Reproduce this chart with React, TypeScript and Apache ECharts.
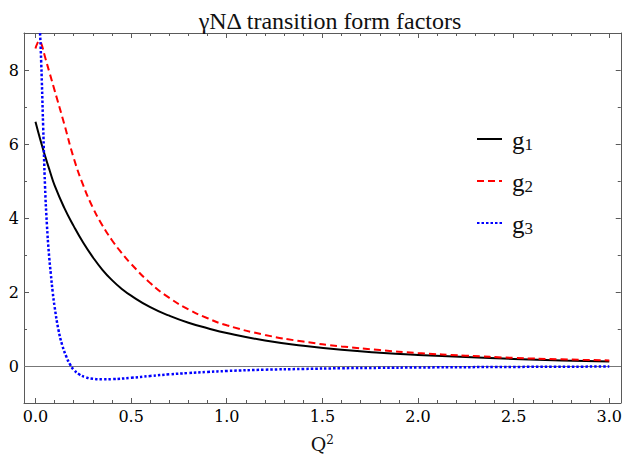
import React, { useEffect, useRef } from "react";
import * as echarts from "echarts";

// ---- data ----
const titleText = "γNΔ transition form factors";
const seriesNames = ["g1", "g2", "g3"];

const xMajorTicks = [0, 0.5, 1.0, 1.5, 2.0, 2.5, 3.0];
const xMinorTicks = [
  0.1, 0.2, 0.3, 0.4, 0.6, 0.7, 0.8, 0.9, 1.1, 1.2, 1.3, 1.4, 1.6, 1.7, 1.8, 1.9,
  2.1, 2.2, 2.3, 2.4, 2.6, 2.7, 2.8, 2.9,
];
const yMajorTicks = [0, 2, 4, 6, 8];
const yMinorTicks = [-1, 1, 3, 5, 7];

const g1Q2 = [0, 0.025, 0.05, 0.075, 0.1, 0.15, 0.2, 0.25, 0.3, 0.35, 0.4, 0.45, 0.5, 0.6, 0.7, 0.8, 0.9, 1.0, 1.2, 1.4, 1.6, 1.8, 2.0, 2.25, 2.5, 2.75, 3.0];
const g1Vals = [6.6, 6.12, 5.68, 5.27, 4.88, 4.28, 3.78, 3.33, 2.94, 2.6, 2.32, 2.09, 1.9, 1.59, 1.36, 1.17, 1.02, 0.89, 0.69, 0.55, 0.44, 0.36, 0.3, 0.24, 0.19, 0.15, 0.12];

const g2Q2 = [0, 0.01, 0.02, 0.03, 0.05, 0.075, 0.1, 0.15, 0.2, 0.25, 0.3, 0.35, 0.4, 0.45, 0.5, 0.6, 0.7, 0.8, 0.9, 1.0, 1.2, 1.4, 1.6, 1.8, 2.0, 2.25, 2.5, 2.75, 3.0];
const g2Vals = [8.58, 8.72, 8.78, 8.72, 8.35, 7.9, 7.45, 6.55, 5.62, 4.88, 4.28, 3.8, 3.4, 3.06, 2.76, 2.24, 1.84, 1.53, 1.29, 1.1, 0.84, 0.66, 0.53, 0.43, 0.35, 0.28, 0.22, 0.18, 0.15];

const g3Q2 = [0, 0.01, 0.02, 0.03, 0.04, 0.05, 0.06, 0.07, 0.08, 0.09, 0.1, 0.12, 0.14, 0.16, 0.18, 0.2, 0.23, 0.26, 0.3, 0.35, 0.4, 0.5, 0.6, 0.7, 0.8, 0.9, 1.0, 1.2, 1.4, 1.6, 1.8, 2.0, 2.5, 3.0];
const g3Vals = [12.4, 10.8, 9.5, 8.2, 6.5, 4.85, 3.8, 3.05, 2.5, 2.0, 1.6, 0.98, 0.56, 0.27, 0.05, -0.1, -0.23, -0.3, -0.345, -0.36, -0.355, -0.32, -0.27, -0.225, -0.19, -0.16, -0.135, -0.1, -0.08, -0.06, -0.05, -0.04, -0.025, -0.015];

const X_MIN = -0.06;
const X_MAX = 3.06;
const Y_MIN = -1;
const Y_MAX = 9;

const FONT = "Liberation Serif";
const TICK_FONT = "DejaVu Serif";
const AXIS_COLOR = "#5a5a5a";

function pairs(xs: number[], ys: number[]) {
  return xs.map((x, i) => [x, ys[i]]);
}

export default function App() {
  const ref = useRef<HTMLDivElement>(null);

  useEffect(() => {
    document.body.style.margin = "0";
    if (!ref.current) return;
    const chart = echarts.init(ref.current, undefined, { renderer: "svg" });

    const baseX = (position: "bottom" | "top", major: boolean) => ({
      type: "value",
      min: X_MIN,
      max: X_MAX,
      position,
      axisLine: { show: major, onZero: false, lineStyle: { color: AXIS_COLOR, width: 1 } },
      axisTick: {
        show: true,
        inside: true,
        length: major ? 5 : 3,
        customValues: major ? xMajorTicks : xMinorTicks,
        lineStyle: { color: AXIS_COLOR, width: 1 },
      },
      axisLabel: { show: false },
      splitLine: { show: false },
    });
    const baseY = (position: "left" | "right", major: boolean) => ({
      type: "value",
      min: Y_MIN,
      max: Y_MAX,
      position,
      axisLine: { show: major, onZero: false, lineStyle: { color: AXIS_COLOR, width: 1 } },
      axisTick: {
        show: true,
        inside: true,
        length: major ? 5 : 3,
        customValues: major ? yMajorTicks : yMinorTicks,
        lineStyle: { color: AXIS_COLOR, width: 1 },
      },
      axisLabel: { show: false },
      splitLine: { show: false },
    });

    const xMain: any = baseX("bottom", true);
    xMain.axisLabel = {
      show: true,
      customValues: xMajorTicks,
      formatter: (v: number) => v.toFixed(1),
      fontFamily: TICK_FONT,
      fontSize: 16,
      color: "#000",
      margin: 5,
    };
    xMain.name = "{q|Q}{s|2}";
    xMain.nameLocation = "middle";
    xMain.nameGap = 31;
    xMain.nameTextStyle = {
      rich: {
        q: { fontFamily: TICK_FONT, fontSize: 19, color: "#111", lineHeight: 24, verticalAlign: "top" },
        s: { fontFamily: TICK_FONT, fontSize: 12, color: "#111", lineHeight: 13, verticalAlign: "top" },
      },
    };

    const yMain: any = baseY("left", true);
    yMain.axisLabel = {
      show: true,
      customValues: yMajorTicks,
      formatter: (v: number) => String(v),
      fontFamily: TICK_FONT,
      fontSize: 16,
      color: "#000",
      margin: 5,
    };

    const lineSeries = (name: string, xs: number[], ys: number[], color: string, type: any, width: number) => ({
      name,
      type: "line",
      data: pairs(xs, ys),
      xAxisIndex: 0,
      yAxisIndex: 0,
      symbol: "none",
      smooth: 0.5,
      clip: true,
      lineStyle: { color, width, type },
      itemStyle: { color },
    });

    const s1: any = lineSeries(seriesNames[0], g1Q2, g1Vals, "#000000", "solid", 2);
    s1.markLine = {
      silent: true,
      symbol: ["none", "none"],
      label: { show: false },
      lineStyle: { color: "#777", width: 1, type: "solid" },
      data: [{ yAxis: 0 }],
      z: 1,
    };

    chart.setOption({
      animation: false,
      backgroundColor: "#ffffff",
      title: {
        text: titleText,
        left: 325,
        top: 4,
        textAlign: "center",
        textStyle: { fontFamily: FONT, fontSize: 24, fontWeight: "normal", color: "#111" },
      },
      grid: { left: 24, right: 2, top: 33, bottom: 57, containLabel: false },
      legend: {
        orient: "vertical",
        left: 471,
        top: 123,
        itemWidth: 25,
        itemHeight: 14,
        itemGap: 17,
        data: seriesNames,
        itemStyle: { opacity: 0, color: "transparent", borderWidth: 0 },
        formatter: (name: string) => `{g|${name.charAt(0)}}{s|${name.slice(1)}}`,
        textStyle: {
          rich: {
            g: { fontFamily: FONT, fontSize: 25, color: "#111", lineHeight: 28, verticalAlign: "bottom", padding: [0, 0, 0, 5] },
            s: { fontFamily: FONT, fontSize: 17, color: "#111", lineHeight: 14, verticalAlign: "bottom" },
          },
        },
      },
      xAxis: [xMain, baseX("bottom", false), baseX("top", true), baseX("top", false)],
      yAxis: [yMain, baseY("left", false), baseY("right", true), baseY("right", false)],
      series: [
        s1,
        lineSeries(seriesNames[1], g2Q2, g2Vals, "#ff0000", [7, 4], 2),
        lineSeries(seriesNames[2], g3Q2, g3Vals, "#0000ff", [2.5, 2], 2.5),
      ],
    });

    return () => chart.dispose();
  }, []);

  return (
    <div
      ref={ref}
      style={{ position: "fixed", left: 0, top: 0, width: 625, height: 460, background: "#fff" }}
    />
  );
}
